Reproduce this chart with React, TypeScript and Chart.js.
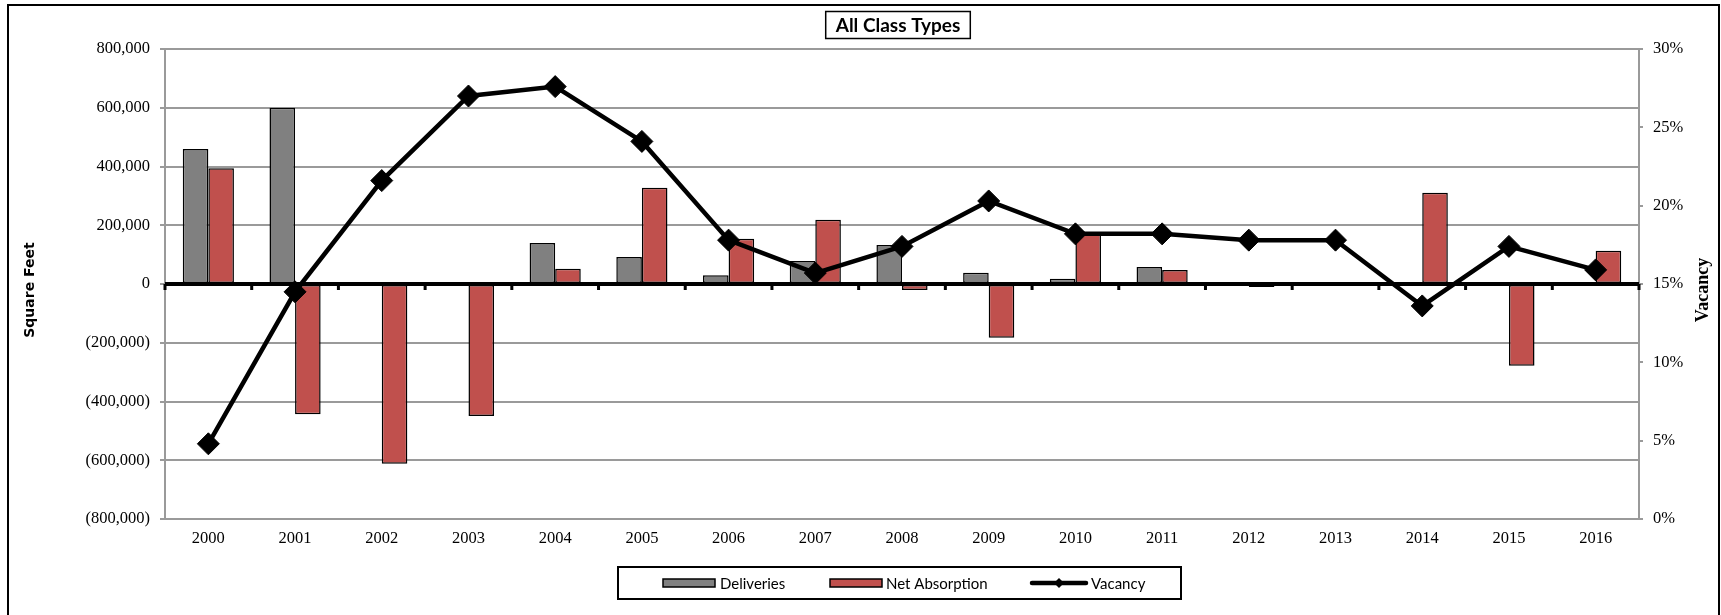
import { useEffect, useRef } from 'react';
import { Chart, registerables } from 'chart.js';

Chart.register(...registerables);

// Years on the category axis
const years = [
  '2000', '2001', '2002', '2003', '2004', '2005', '2006', '2007', '2008',
  '2009', '2010', '2011', '2012', '2013', '2014', '2015', '2016',
];

// Square feet delivered per year
const deliveries = [
  460000, 600000, 0, 0, 140000, 92000, 30000, 78000, 133000,
  38000, 18000, 58000, 0, 0, 0, 0, 0,
];

// Net absorption in square feet per year
const netAbsorption = [
  394000, -443000, -612000, -449000, 52000, 328000, 154000, 219000, -20000,
  -183000, 172000, 48000, -10000, 0, 311000, -278000, 113000,
];

// Vacancy rate (fraction) per year
const vacancy = [
  0.048, 0.145, 0.216, 0.270, 0.276, 0.241, 0.178, 0.157, 0.174,
  0.203, 0.182, 0.182, 0.178, 0.178, 0.136, 0.174, 0.159,
];

const chartTitle = 'All Class Types';
const leftAxisTitle = 'Square Feet';
const rightAxisTitle = 'Vacancy';

const GRAY = '#808080';
const RED = '#C0504D';
const GRID = '#9a9a9a';
const SERIF = '"Liberation Serif", "Times New Roman", serif';
const SANS = 'Lato, "Open Sans", sans-serif';

const formatFeet = (v: number) => {
  if (v === 0) return '0';
  const s = Math.abs(v).toLocaleString('en-US');
  return v < 0 ? `(${s})` : s;
};

const decorations = {
  id: 'decorations',
  beforeDatasetDraw(chart: any, args: any) {
    // zero baseline with category tick marks, drawn over the bars but under the line
    if (chart.data.datasets[args.index].type !== 'line') return;
    const { ctx, chartArea, scales } = chart;
    const y0 = scales.y.getPixelForValue(0);
    ctx.save();
    ctx.fillStyle = '#000';
    ctx.fillRect(chartArea.left, y0 - 2, chartArea.right - chartArea.left, 4);
    for (let k = 0; k <= years.length; k++) {
      const x = scales.x.getPixelForValue(k - 0.5);
      ctx.fillRect(x - 1.5, y0, 3, 6);
    }
    ctx.restore();
  },
  afterDraw(chart: any) {
    const { ctx, chartArea, scales } = chart;
    const ds = chart.data.datasets;
    const midY = (chartArea.top + chartArea.bottom) / 2 + 6;
    ctx.save();

    // outer frame
    ctx.strokeStyle = '#000';
    ctx.lineWidth = 2;
    ctx.strokeRect(8, 5, 1711, 700);

    // boxed title
    ctx.font = `bold 19px ${SANS}`;
    const tw = ctx.measureText(chartTitle).width;
    const cx = 898;
    const ty = 25;
    ctx.lineWidth = 1.5;
    ctx.strokeRect(cx - tw / 2 - 10, ty - 13.5, tw + 20, 27);
    ctx.fillStyle = '#000';
    ctx.textAlign = 'center';
    ctx.textBaseline = 'middle';
    ctx.fillText(chartTitle, cx, ty + 1);

    // left axis title, reading bottom to top
    ctx.save();
    ctx.translate(30, midY);
    ctx.rotate(-Math.PI / 2);
    ctx.font = `bold 14px "DejaVu Sans", Verdana, sans-serif`;
    ctx.fillText(leftAxisTitle, 0, 0);
    ctx.restore();

    // right axis title, reading bottom to top
    ctx.save();
    ctx.translate(scales.y1.right - 18, midY);
    ctx.rotate(-Math.PI / 2);
    ctx.font = `bold 18px ${SERIF}`;
    ctx.fillText(rightAxisTitle, 0, 0);
    ctx.restore();

    // legend
    const ly = 583;
    ctx.lineWidth = 2;
    ctx.strokeRect(618, 567, 563, 32);
    ctx.font = `15px ${SANS}`;
    ctx.textAlign = 'left';
    ctx.textBaseline = 'middle';
    const swatch = (x: number, color: string) => {
      ctx.fillStyle = color;
      ctx.fillRect(x, ly - 4, 52, 8);
      ctx.lineWidth = 1.5;
      ctx.strokeStyle = '#000';
      ctx.strokeRect(x, ly - 4, 52, 8);
    };
    swatch(663, ds[0].backgroundColor);
    ctx.fillStyle = '#000';
    ctx.fillText(ds[0].label, 720, ly + 1);
    swatch(830, ds[1].backgroundColor);
    ctx.fillStyle = '#000';
    ctx.fillText(ds[1].label, 886, ly + 1);
    ctx.strokeStyle = ds[2].borderColor;
    ctx.lineWidth = 4.5;
    ctx.lineCap = 'round';
    ctx.beginPath();
    ctx.moveTo(1032, ly);
    ctx.lineTo(1086, ly);
    ctx.stroke();
    ctx.beginPath();
    ctx.moveTo(1059, ly - 5);
    ctx.lineTo(1064, ly);
    ctx.lineTo(1059, ly + 5);
    ctx.lineTo(1054, ly);
    ctx.closePath();
    ctx.fillStyle = '#000';
    ctx.fill();
    ctx.fillText(ds[2].label, 1091, ly + 1);

    ctx.restore();
  },
};

export default function App() {
  const ref = useRef<HTMLCanvasElement>(null);

  useEffect(() => {
    const canvas = ref.current;
    if (!canvas) return;
    const tickFont = { family: SERIF, size: 16.5 };
    const chart = new Chart(canvas, {
      type: 'bar',
      data: {
        labels: years,
        datasets: [
          {
            type: 'bar',
            label: 'Deliveries',
            data: deliveries,
            backgroundColor: GRAY,
            borderColor: '#000',
            borderWidth: 1.5,
            borderSkipped: false,
            yAxisID: 'y',
            order: 1,
            categoryPercentage: 0.59,
            barPercentage: 1,
          },
          {
            type: 'bar',
            label: 'Net Absorption',
            data: netAbsorption,
            backgroundColor: RED,
            borderColor: '#000',
            borderWidth: 1.5,
            borderSkipped: false,
            yAxisID: 'y',
            order: 1,
            categoryPercentage: 0.59,
            barPercentage: 1,
          },
          {
            type: 'line',
            label: 'Vacancy',
            data: vacancy,
            yAxisID: 'y1',
            borderColor: '#000',
            borderWidth: 4.5,
            tension: 0,
            pointStyle: 'rectRot',
            pointRadius: 11,
            pointBackgroundColor: '#000',
            pointBorderColor: '#000',
            pointBorderWidth: 1,
            order: 0,
          },
        ],
      } as any,
      options: {
        responsive: false,
        animation: false,
        layout: { padding: { top: 49, left: 0, right: 0, bottom: 0 } },
        plugins: {
          legend: { display: false },
          title: { display: false },
          tooltip: { enabled: false },
        },
        scales: {
          x: {
            grid: { display: false, drawTicks: false },
            border: { display: false },
            ticks: { color: '#000', font: tickFont, padding: 10, maxRotation: 0, autoSkip: false },
            afterFit: (s: any) => { s.height = 96; },
          },
          y: {
            position: 'left',
            min: -800000,
            max: 800000,
            ticks: {
              stepSize: 200000,
              color: '#000',
              font: tickFont,
              padding: 10,
              callback: (v: any) => formatFeet(Number(v)),
            },
            grid: { color: GRID, lineWidth: 2, tickLength: 5 },
            border: { color: GRID, width: 2 },
            afterFit: (s: any) => { s.width = 165; },
          },
          y1: {
            position: 'right',
            min: 0,
            max: 0.3,
            ticks: {
              stepSize: 0.05,
              color: '#000',
              font: tickFont,
              padding: 10,
              callback: (v: any) => `${Math.round(Number(v) * 100)}%`,
            },
            grid: { drawOnChartArea: false, color: GRID, lineWidth: 2, tickLength: 4 },
            border: { color: GRID, width: 2 },
            afterFit: (s: any) => { s.width = 82; },
          },
        },
      } as any,
      plugins: [decorations],
    });
    return () => chart.destroy();
  }, []);

  return (
    <div style={{ position: 'absolute', left: 0, top: 0, width: 1721, height: 615, background: '#fff' }}>
      <canvas ref={ref} width={1721} height={615} style={{ display: 'block' }} />
    </div>
  );
}
